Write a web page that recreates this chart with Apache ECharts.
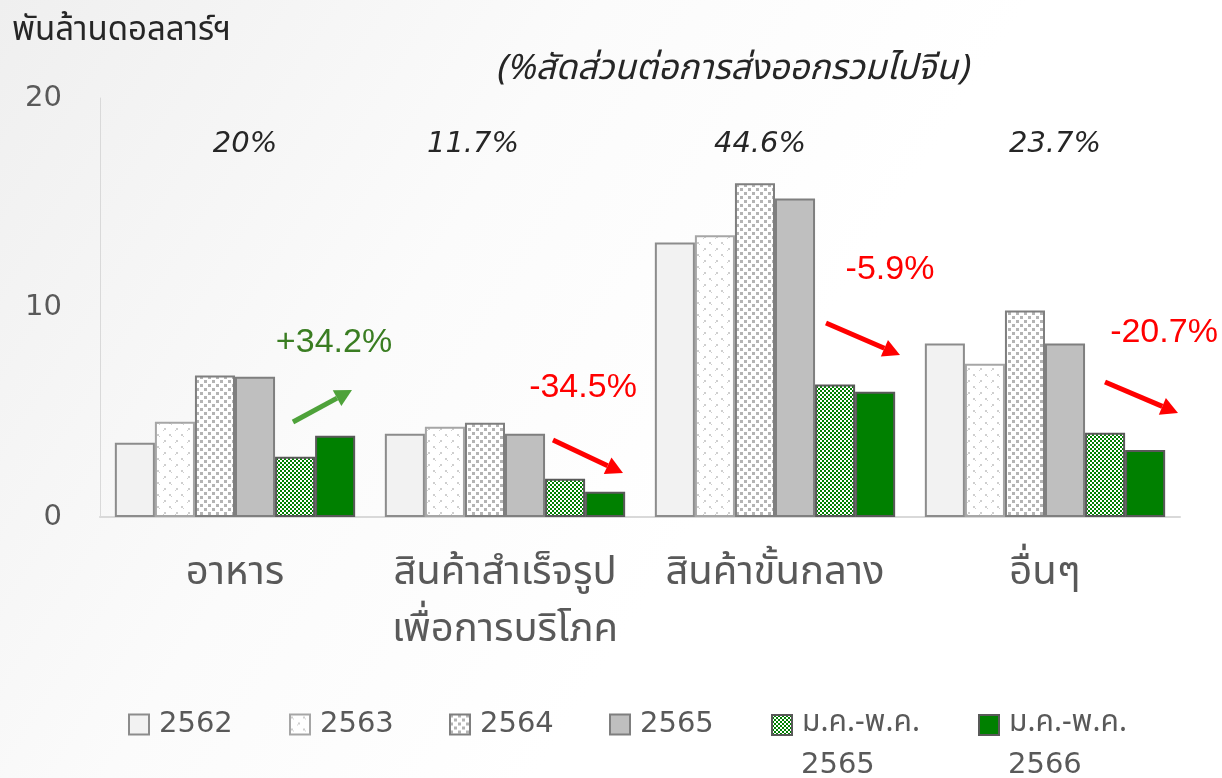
<!DOCTYPE html>
<html><head><meta charset="utf-8">
<script src="https://cdn.jsdelivr.net/npm/echarts@6/dist/echarts.min.js"></script>
<style>html,body{margin:0;padding:0;background:#fff}#c{width:1222px;height:778px}</style>
</head><body><div id="c"></div>
<script>
const categories = ['อาหาร', 'สินค้าสำเร็จรูป\nเพื่อการบริโภค', 'สินค้าขั้นกลาง', 'อื่นๆ'];
const seriesNames = ['2562', '2563', '2564', '2565', 'ม.ค.-พ.ค. 2565', 'ม.ค.-พ.ค. 2566'];
const v2562 = [3.55, 3.97, 13.1, 8.28];
const v2563 = [4.55, 4.31, 13.45, 7.32];
const v2564 = [6.75, 4.5, 15.93, 9.86];
const v2565 = [6.7, 3.97, 15.2, 8.28];
const vJM2565 = [2.87, 1.82, 6.32, 4.02];
const vJM2566 = [3.88, 1.2, 5.98, 3.2];
const shareLabels = ['20%', '11.7%', '44.6%', '23.7%'];
const growthLabels = ['+34.2%', '-34.5%', '-5.9%', '-20.7%'];
const yTicks = [0, 10, 20];

const FONT = "'DejaVu Sans', 'Noto Sans Thai', sans-serif";
const THAI = "'Noto Sans Thai', 'Noto Sans', sans-serif";

function pattern(size, draw) {
  const c = document.createElement('canvas');
  c.width = size; c.height = size;
  const g = c.getContext('2d');
  draw(g);
  return { image: c, repeat: 'repeat' };
}
const pat2563 = pattern(12, g => {
  g.fillStyle = '#ffffff'; g.fillRect(0, 0, 12, 12);
  g.fillStyle = '#cfcfcf';
  g.fillRect(1, 2, 2, 2); g.fillRect(3, 4, 1, 1);
  g.fillRect(8, 8, 2, 2); g.fillRect(7, 10, 1, 1);
});
const pat2564 = pattern(8, g => {
  g.fillStyle = '#ffffff'; g.fillRect(0, 0, 8, 8);
  g.fillStyle = '#b4b4b4';
  g.fillRect(0, 0, 3, 3); g.fillRect(4, 4, 3, 3);
});
const patJM = pattern(4, g => {
  g.fillStyle = '#008000'; g.fillRect(0, 0, 4, 4);
  g.fillStyle = '#ffffff';
  g.fillRect(0, 0, 2, 2); g.fillRect(2, 2, 2, 2);
});

const styles = [
  { color: '#f2f2f2', borderColor: '#8c8c8c' },
  { color: pat2563, borderColor: '#a6a6a6' },
  { color: pat2564, borderColor: '#7f7f7f' },
  { color: '#bfbfbf', borderColor: '#7f7f7f' },
  { color: patJM, borderColor: '#595959' },
  { color: '#008000', borderColor: '#595959' }
];
const values = [v2562, v2563, v2564, v2565, vJM2565, vJM2566];

const chart = echarts.init(document.getElementById('c'));
const series = seriesNames.map((n, i) => ({
  name: n, type: 'bar', data: values[i], barGap: '0%', barCategoryGap: '11%',
  itemStyle: Object.assign({ borderWidth: 2 }, styles[i]),
  emphasis: { disabled: true }
}));

const legendLeft = [128, 289, 449, 609, 771, 978];
const legends = seriesNames.map((n, i) => ({
  left: legendLeft[i], top: 710, padding: 0, itemWidth: 20, itemHeight: 20, icon: 'rect',
  selectedMode: false,
  textStyle: i < 4 ? { fontSize: 29, color: '#595959', fontFamily: FONT, padding: [0, 0, 0, 5] }
                   : { fontSize: 30, color: '#595959', fontFamily: THAI, padding: [0, 0, 0, 5] },
  formatter: s => s.split(' ')[0] === 'ม.ค.-พ.ค.' ? 'ม.ค.-พ.ค.' : s,
  data: [n]
}));

chart.setOption({
  animation: false,
  backgroundColor: { type: 'linear', x: 0, y: 0, x2: 1, y2: 1, colorStops: [
    { offset: 0, color: '#efefef' }, { offset: 0.35, color: '#fbfbfb' }, { offset: 0.6, color: '#ffffff' }] },
  textStyle: { fontFamily: FONT },
  grid: { left: 100, right: 42, top: 98, bottom: 261, containLabel: false },
  legend: legends,
  xAxis: {
    type: 'category', data: categories,
    axisLine: { lineStyle: { color: '#d9d9d9', width: 2 } },
    axisTick: { show: false },
    axisLabel: { fontSize: 40, fontFamily: THAI, color: '#595959', margin: 30, lineHeight: 57, interval: 0 }
  },
  yAxis: {
    type: 'value', min: 0, max: 20, interval: 10,
    axisLine: { show: true, lineStyle: { color: '#d9d9d9', width: 1 } },
    axisTick: { show: false },
    splitLine: { show: false },
    axisLabel: { fontSize: 29, color: '#595959', margin: 38, formatter: v => yTicks.includes(v) ? String(v) : '' }
  },
  series
});

// annotations
const shareDx = [10, -32, -15, 10];
const growthPos = [[334, 343, '#3a7d22'], [583, 388, '#ff0000'], [890, 270, '#ff0000'], [1164, 333, '#ff0000']];
const arrows = [
  [293, 422, 352, 390, '#4ea23a'],
  [553, 440, 623, 473, '#ff0000'],
  [826, 323, 900, 355, '#ff0000'],
  [1105, 382, 1178, 413, '#ff0000']
];
const graphics = [
  { type: 'text', x: 12, y: 33, style: { text: 'พันล้านดอลลาร์ฯ', font: '33px ' + THAI, fill: '#262626', verticalAlign: 'middle' } },
  { type: 'text', x: 732, y: 72, style: { text: '(%สัดส่วนต่อการส่งออกรวมไปจีน)', font: 'italic 35px ' + THAI, fill: '#262626', align: 'center', verticalAlign: 'middle' } }
];
// second lines of the two-line legend entries
[4, 5].forEach(i => {
  graphics.push({ type: 'text', x: legendLeft[i] + 30, y: 765, style: { text: seriesNames[i].split(' ')[1], font: '29px ' + FONT, fill: '#595959', verticalAlign: 'middle' } });
});
categories.forEach((c, i) => {
  const p = chart.convertToPixel({ xAxisIndex: 0, yAxisIndex: 0 }, [i, 17.8]);
  graphics.push({ type: 'text', x: p[0] + shareDx[i], y: p[1], style: { text: shareLabels[i], font: 'italic 29px ' + FONT, fill: '#262626', align: 'center', verticalAlign: 'middle' } });
  const g = growthPos[i];
  graphics.push({ type: 'text', x: g[0], y: g[1], style: { text: growthLabels[i], font: '34px "Liberation Sans", Arial, sans-serif', fill: g[2], align: 'center', verticalAlign: 'middle' } });
  const a = arrows[i];
  const ang = Math.atan2(a[3] - a[1], a[2] - a[0]);
  const hl = 17, hw = 9;
  const bx = a[2] - hl * Math.cos(ang), by = a[3] - hl * Math.sin(ang);
  graphics.push({ type: 'line', shape: { x1: a[0], y1: a[1], x2: bx, y2: by }, style: { stroke: a[4], lineWidth: 5 } });
  graphics.push({ type: 'polygon', shape: { points: [[a[2], a[3]],
    [bx + hw * Math.sin(ang), by - hw * Math.cos(ang)],
    [bx - hw * Math.sin(ang), by + hw * Math.cos(ang)]] }, style: { fill: a[4] } });
});
chart.setOption({ graphic: graphics });
</script></body></html>
